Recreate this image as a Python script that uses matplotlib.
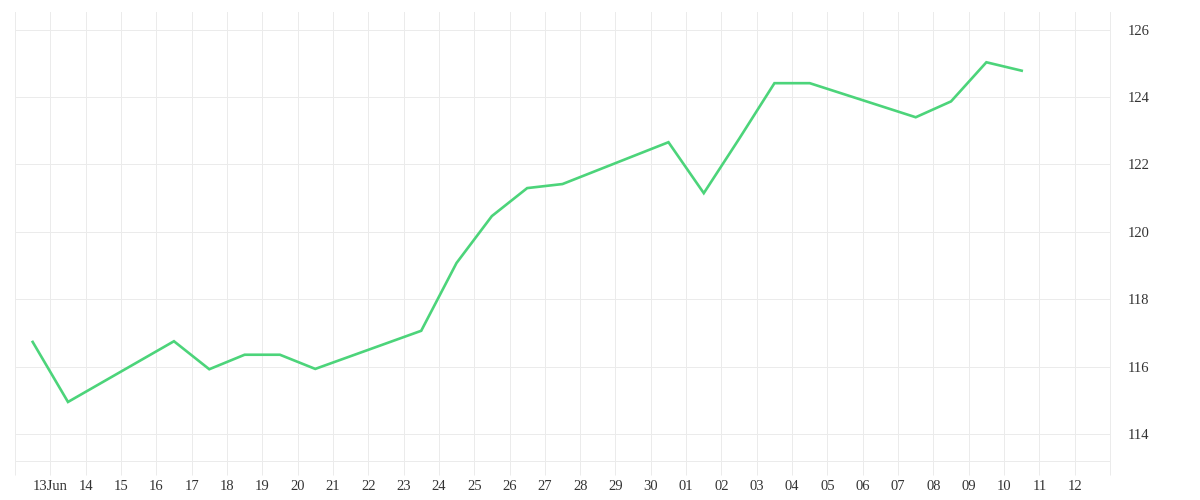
import datetime as dt
import matplotlib
matplotlib.use("Agg")
import matplotlib.pyplot as plt
import matplotlib.dates as mdates

# daily closing values (weekends missing)
days = [
    "2014-06-12", "2014-06-13", "2014-06-16", "2014-06-17", "2014-06-18",
    "2014-06-19", "2014-06-20", "2014-06-23", "2014-06-24", "2014-06-25",
    "2014-06-26", "2014-06-27", "2014-06-30", "2014-07-01", "2014-07-02",
    "2014-07-03", "2014-07-04", "2014-07-07", "2014-07-08", "2014-07-09",
    "2014-07-10",
]
values = [
    116.74, 114.96, 116.76, 115.93, 116.36,
    116.36, 115.94, 117.07, 119.08, 120.47,
    121.30, 121.42, 122.66, 121.15, 122.76,
    124.41, 124.41, 123.40, 123.87, 125.03,
    124.78,
]
tick_labels = ["13Jun"] + [str(d) for d in range(14, 31)] + ["%02d" % d for d in range(1, 13)]
y_ticks = [114, 116, 118, 120, 122, 124, 126]

plt.rcParams['font.family'] = ['Liberation Serif', 'DejaVu Serif']

x = [dt.datetime.strptime(d, "%Y-%m-%d") + dt.timedelta(hours=12) for d in days]
tick_pos = [dt.datetime(2014, 6, 13) + dt.timedelta(days=i) for i in range(len(tick_labels))]

fig = plt.figure(figsize=(12, 5), dpi=100)
ax = fig.add_axes([15/1200, 1 - 461/500, 1095/1200, 449/500])

ax.plot(x, values, color='#4cd47a', linewidth=1.9, solid_joinstyle='miter')

ax.set_xlim(dt.datetime(2014, 6, 12), dt.datetime(2014, 7, 13))
ax.set_ylim(113.21, 126.52)

ax.set_xticks(tick_pos)
ax.set_xticklabels(tick_labels)
ax.xaxis.set_minor_locator(mdates.DayLocator())
ax.set_yticks(y_ticks)

grid_c = '#ebebeb'
ax.yaxis.tick_right()
ax.tick_params(axis='y', length=0, pad=13, labelsize=10.5, labelcolor='#333333')
ax.tick_params(axis='x', which='major', length=10, width=0.72, color=grid_c, pad=4,
               labelsize=10.5, labelcolor='#333333')
ax.tick_params(axis='x', which='minor', length=10, width=0.72, color=grid_c)

ax.grid(True, which='both', axis='x', color=grid_c, linewidth=0.72)
ax.grid(True, axis='y', color=grid_c, linewidth=0.72)
ax.set_axisbelow(True)
ax.spines['top'].set_visible(False)
for side in ['left', 'right', 'bottom']:
    ax.spines[side].set_color(grid_c)
    ax.spines[side].set_linewidth(0.72)

fig.savefig("out.png", dpi=100)
